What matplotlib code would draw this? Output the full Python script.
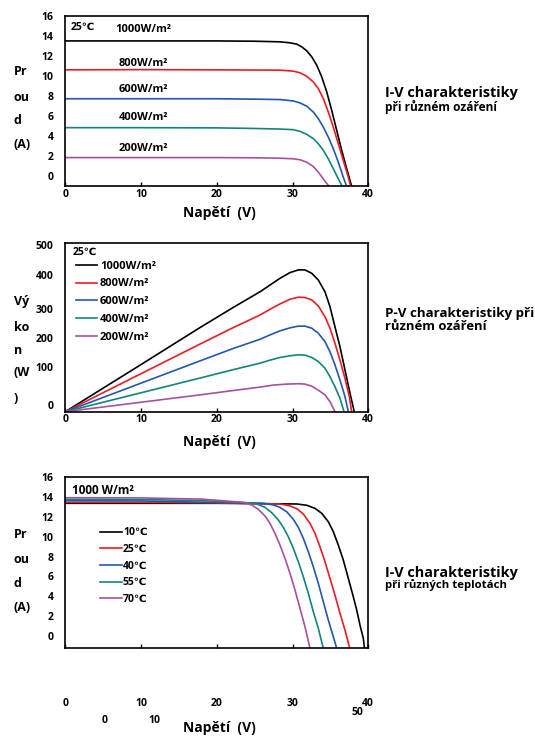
import matplotlib
matplotlib.use("Agg")
import matplotlib.pyplot as plt

plt.rcParams['font.family'] = ['Open Sans', 'DejaVu Sans', 'Noto Sans CJK SC']
plt.rcParams['font.weight'] = 'bold'

# colours for the five curves of each chart
colors = ['#000000', '#ec1c24', '#2356b0', '#12857a', '#a8509e']

# ---- chart 1: I-V at different irradiance (25 C) ----
irr_labels = ['1000W/m²', '800W/m²', '600W/m²', '400W/m²', '200W/m²']
iv_v_1000 = [0, 10, 20, 25, 28.34, 29.66, 30.55, 31.21, 31.87, 32.53, 33.19, 33.85, 34.51,
             35.17, 35.83, 36.49, 37.15, 37.81]
iv_i_1000 = [13.5, 13.5, 13.5, 13.47, 13.41, 13.31, 13.18, 12.91, 12.51, 11.91, 11.07, 9.9, 8.39,
             6.54, 4.53, 2.52, 0.68, -1.1]
iv_v_800 = [0, 10, 20, 25, 28.34, 30.1, 30.99, 31.87, 32.74, 33.4, 34.06, 34.72, 35.38, 36.04,
            36.7, 37.36, 37.67]
iv_i_800 = [10.6, 10.62, 10.6, 10.58, 10.57, 10.47, 10.3, 9.96, 9.39, 8.72, 7.72, 6.37, 4.86, 3.19,
            1.51, -0.17, -1.1]
iv_v_600 = [0, 10, 20, 25, 28.34, 30.1, 30.99, 31.87, 32.74, 33.4, 34.06, 34.72, 35.38, 36.04,
            36.7, 37.15]
iv_i_600 = [7.7, 7.7, 7.7, 7.66, 7.62, 7.48, 7.28, 6.95, 6.37, 5.71, 4.86, 3.86, 2.69, 1.34,
            -0.17, -1.1]
iv_v_400 = [0, 10, 20, 25, 28.34, 30.1, 30.99, 31.87, 32.74, 33.4, 34.06, 34.72, 35.38, 36.04,
            36.57]
iv_i_400 = [4.8, 4.8, 4.78, 4.72, 4.66, 4.6, 4.43, 4.13, 3.7, 3.19, 2.52, 1.68, 0.68, -0.33, -1.1]
iv_v_200 = [0, 10, 20, 25, 28.34, 30.1, 30.99, 31.87, 32.74, 33.4, 34.06, 34.72, 34.86]
iv_i_200 = [1.8, 1.8, 1.8, 1.78, 1.74, 1.68, 1.58, 1.34, 0.91, 0.34, -0.33, -1.0, -1.1]

# ---- chart 2: P-V at different irradiance ----
pv_v_1000 = [0, 10, 17.8, 22.2, 25.7, 27.02, 28.34, 29.66, 30.76, 31.64, 32.53, 33.4, 34.28,
             34.94, 35.6, 36.26, 36.92, 37.58, 38.15]
pv_p_1000 = [0, 140, 250, 310, 356, 376, 396, 413, 421, 421, 411, 391, 356, 312, 252, 193, 124,
             55, 0]
pv_v_800 = [0, 17.8, 22.2, 25.7, 27.02, 28.34, 29.66, 30.76, 31.64, 32.53, 33.4, 34.28, 34.94,
            35.6, 36.26, 36.92, 37.5, 37.8]
pv_p_800 = [0, 201, 250, 287, 304, 320, 334, 340, 339, 332, 314, 282, 248, 203, 153, 99, 45, 0]
pv_v_600 = [0, 17.8, 22.2, 25.7, 27.02, 28.34, 29.66, 30.76, 31.64, 32.53, 33.4, 34.28, 34.94,
            35.6, 36.26, 36.92, 37.36]
pv_p_600 = [0, 151, 188, 215, 228, 240, 249, 254, 254, 248, 233, 208, 178, 139, 94, 45, 0]
pv_v_400 = [0, 17.8, 22.2, 25.7, 27.02, 28.34, 29.66, 30.76, 31.64, 32.53, 33.4, 34.28, 34.94,
            35.6, 36.26, 36.79]
pv_p_400 = [0, 100, 125, 144, 153, 161, 166, 169, 168, 161, 149, 129, 104, 74, 40, 0]
pv_v_200 = [0, 17.8, 22.2, 25.7, 27.46, 29.22, 30.76, 31.64, 32.53, 33.4, 34.28, 34.94, 35.6]
pv_p_200 = [0, 50, 63, 73, 79, 82, 83, 82, 76, 64, 50, 30, 0]
pv_tick_pos = [20, 134, 218, 304, 406, 495]
pv_tick_lbl = ['0', '100', '200', '300', '400', '500']

# ---- chart 3: I-V at different temperatures (1000 W/m2) ----
temp_labels = ['10℃', '25℃', '40℃', '55℃', '70℃']
t_v_10 = [0, 20, 30.55, 31.87, 32.96, 33.85, 34.72, 35.38, 36.04, 36.7, 37.36, 38.02, 38.47,
          38.9, 39.34, 39.5]
t_i_10 = [13.38, 13.38, 13.31, 13.18, 12.87, 12.37, 11.52, 10.52, 9.17, 7.66, 5.82, 3.96, 2.62,
          1.11, -0.23, -1.24]
t_v_25 = [0, 10, 20, 28.34, 29.66, 30.55, 31.42, 32.3, 32.96, 33.62, 34.28, 34.94, 35.6, 36.26,
          36.92, 37.55]
t_i_25 = [13.48, 13.48, 13.42, 13.31, 13.11, 12.84, 12.3, 11.36, 10.35, 9.0, 7.49, 5.82, 4.13,
          2.29, 0.61, -1.24]
t_v_40 = [0, 10, 21.74, 26.14, 27.46, 28.34, 29.22, 30.1, 30.76, 31.42, 32.08, 32.74, 33.4, 34.06,
          34.72, 35.38, 35.83]
t_i_40 = [13.64, 13.62, 13.44, 13.38, 13.21, 12.97, 12.53, 11.77, 10.96, 9.85, 8.5, 6.99, 5.31,
          3.46, 1.61, -0.07, -1.24]
t_v_55 = [0, 10, 18, 21.74, 23.95, 25.27, 26.36, 27.25, 28.12, 28.78, 29.44, 30.1, 30.76, 31.42,
          32.08, 32.74, 33.4, 34.06]
t_i_55 = [13.78, 13.76, 13.65, 13.51, 13.44, 13.31, 12.97, 12.43, 11.7, 10.96, 10.01, 8.84, 7.49,
          5.98, 4.31, 2.45, 0.78, -1.24]
t_v_70 = [0, 10, 18, 21.74, 23.5, 24.61, 25.48, 26.36, 27.02, 27.68, 28.34, 29.0, 29.66, 30.32,
          30.98, 31.64, 32.3]
t_i_70 = [13.94, 13.92, 13.8, 13.58, 13.48, 13.21, 12.77, 12.1, 11.36, 10.35, 9.17, 7.83, 6.32,
          4.64, 2.79, 0.94, -1.24]

x_ticks = [0, 10, 20, 30, 40]

W, H = 535, 738
fig = plt.figure(figsize=(W / 100, H / 100), dpi=100)


def box(left, top, right, bottom):
    return [left / W, (H - bottom) / H, (right - left) / W, (bottom - top) / H]


def style(ax):
    for s in ax.spines.values():
        s.set_linewidth(1.2)
        s.set_color('black')
    ax.set_xlim(0, 40)
    ax.set_xticks(x_ticks)
    ax.tick_params(axis='x', direction='in', length=3, width=1, pad=2, labelsize=7.5)
    ax.tick_params(axis='y', length=0, pad=8.5, labelsize=7.5)


def ylabel(lines, ys):
    for t, y in zip(lines, ys):
        fig.text(14 / W, (H - y) / H, t, fontsize=9, fontweight='bold', ha='left', va='center')


# chart 1
ax1 = fig.add_axes(box(65.3, 16, 368.3, 186))
style(ax1)
ax1.set_ylim(-1.05, 16)
ax1.set_yticks(range(0, 17, 2))
for v, i, c in zip([iv_v_1000, iv_v_800, iv_v_600, iv_v_400, iv_v_200],
                   [iv_i_1000, iv_i_800, iv_i_600, iv_i_400, iv_i_200], colors):
    ax1.plot(v, i, color=c, lw=1.2)
ax1.text(0.016, 0.935, '25℃', transform=ax1.transAxes, fontsize=7.5, va='center')
lbl_pos = [(0.164, 0.918), (0.177, 0.7235), (0.177, 0.565), (0.177, 0.40), (0.177, 0.2235)]
for t, (x, y) in zip(irr_labels, lbl_pos):
    ax1.text(x, y, t, transform=ax1.transAxes, fontsize=8, va='center')
ax1.text(0.507, -0.157, 'Napětí  (V)', transform=ax1.transAxes, fontsize=10,
         ha='center', va='center')
ylabel(['Pr', 'ou', 'd', '(A)'], [71.7, 97.3, 120, 145])

# chart 2
ax2 = fig.add_axes(box(65.3, 243.3, 368.3, 411.7))
style(ax2)
ax2.set_ylim(0, 500)
ax2.set_yticks(pv_tick_pos)
ax2.set_yticklabels(pv_tick_lbl)
for v, p, c, lab in zip([pv_v_1000, pv_v_800, pv_v_600, pv_v_400, pv_v_200],
                        [pv_p_1000, pv_p_800, pv_p_600, pv_p_400, pv_p_200], colors, irr_labels):
    ax2.plot(v, p, color=c, lw=1.2, label=lab)
ax2.text(0.025, 0.948, '25℃', transform=ax2.transAxes, fontsize=7.5, va='center')
ax2.legend(loc='upper left', bbox_to_anchor=(0.035, 0.897), frameon=False,
           fontsize=8, handlelength=1.9, handletextpad=0.25, labelspacing=0.61,
           borderpad=0, borderaxespad=0)
ax2.text(0.507, -0.178, 'Napětí  (V)', transform=ax2.transAxes, fontsize=10,
         ha='center', va='center')
ylabel(['Vý', 'ko', 'n', '(W', ')'], [301.7, 327.7, 350, 372.7, 398.3])

# chart 3
ax3 = fig.add_axes(box(65.3, 476.7, 368.3, 648.3))
style(ax3)
ax3.set_ylim(-1.24, 16.06)
ax3.set_yticks(range(0, 17, 2))
ax3.set_xticklabels([])
for v, i, c, lab in zip([t_v_10, t_v_25, t_v_40, t_v_55, t_v_70],
                        [t_i_10, t_i_25, t_i_40, t_i_55, t_i_70], colors, temp_labels):
    ax3.plot(v, i, color=c, lw=1.2, label=lab)
ax3.text(0.022, 0.922, '1000 W/m²', transform=ax3.transAxes, fontsize=8.5, va='center')
ax3.legend(loc='upper left', bbox_to_anchor=(0.1145, 0.706), frameon=False,
           fontsize=7.5, handlelength=2.1, handletextpad=0.1, labelspacing=0.55,
           borderpad=0, borderaxespad=0)
tr = ax3.get_xaxis_transform()
for xv in x_ticks:
    ax3.text(xv, -0.319, str(xv), transform=tr, fontsize=7.5, ha='center', va='center')
for xv, yv, t in [(5.25, -0.418, '0'), (11.7, -0.418, '10'), (38.6, -0.376, '50')]:
    ax3.text(xv, yv, t, transform=tr, fontsize=7.5, ha='center', va='center')
ax3.text(0.507, -0.463, 'Napětí  (V)', transform=ax3.transAxes, fontsize=10,
         ha='center', va='center')
ylabel(['Pr', 'ou', 'd', '(A)'], [535, 559.3, 583.3, 607.7])

# side captions
side = [('I-V charakteristiky', 93.3, 10.4), ('při různém ozáření', 106.7, 8.6),
        ('P-V charakteristiky při', 313.3, 9.6), ('různém ozáření', 326.7, 9.4),
        ('I-V charakteristiky', 573.3, 10.4), ('při různých teplotách', 585, 8.2)]
for t, y, fs in side:
    fig.text(385 / W, (H - y) / H, t, fontsize=fs, fontweight='bold', ha='left', va='center')

fig.savefig('out.png', dpi=100)
